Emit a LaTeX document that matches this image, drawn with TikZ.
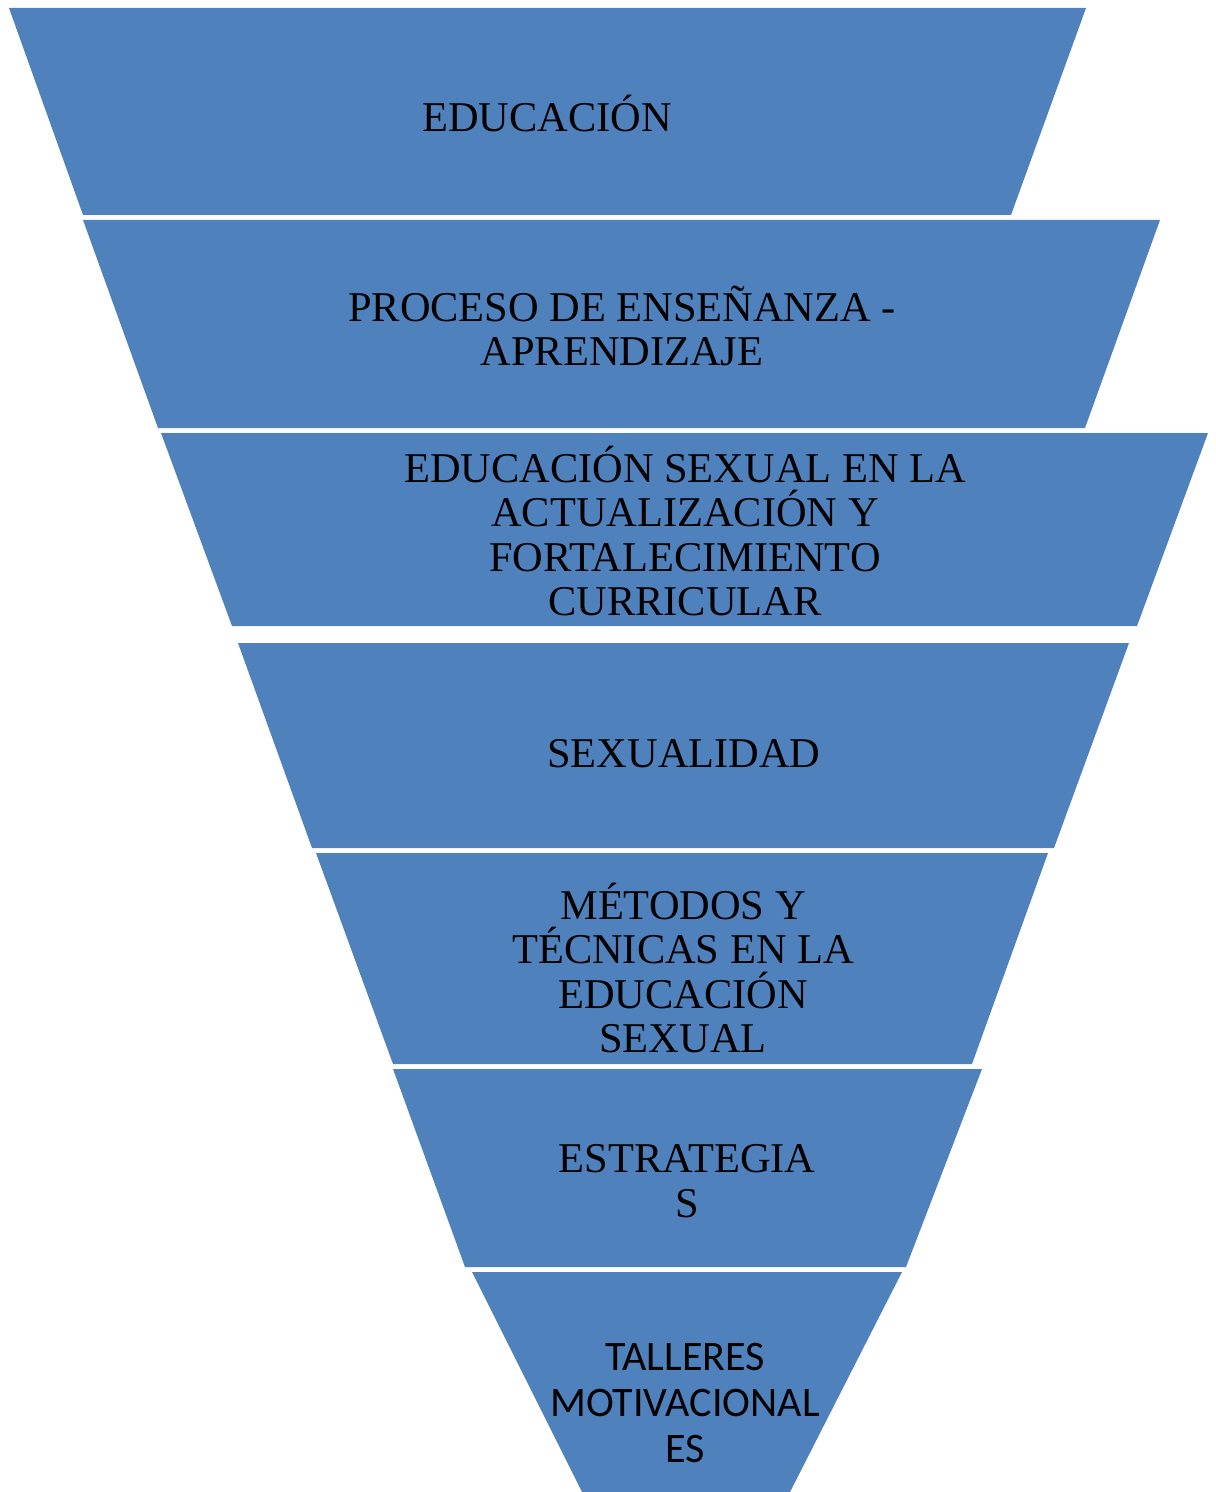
\documentclass[tikz,border=0pt]{standalone}
\usepackage{fontspec}
\setmainfont{Liberation Serif}
\newfontfamily\calib{Carlito}
\definecolor{funnelblue}{RGB}{79,129,189}
\begin{document}
\begin{tikzpicture}[x=0.5pt,y=-0.5pt,
  seg/.style={fill=funnelblue},
  lbl/.style={align=center,inner sep=0pt,text=black,font=\fontsize{21.2}{22.3}\selectfont},
  lblsans/.style={align=center,inner sep=0pt,text=black,font=\calib\fontsize{21}{23}\selectfont}]
\useasboundingbox (0,0) rectangle (1215,1492);
\fill[seg] (9,8) -- (1086,8) -- (1011,215) -- (83,215) -- cycle;
\fill[seg] (83,220) -- (1160,220) -- (1085,428) -- (158,428) -- cycle;
\fill[seg] (161,433) -- (1208,433) -- (1137,626) -- (232,626) -- cycle;
\fill[seg] (238,643) -- (1129,643) -- (1054,848) -- (312,848) -- cycle;
\fill[seg] (316,853) -- (1048,853) -- (972,1064) -- (393,1064) -- cycle;
\fill[seg] (393,1069) -- (982,1069) -- (906,1267) -- (465,1267) -- cycle;
\fill[seg] (472,1272) -- (902,1272) -- (790,1492) -- (582,1492) -- cycle;
\node[lbl] (n1) at (547,114) {EDUCACIÓN};
\node[lbl] (n2) at (622,326) {PROCESO DE ENSEÑANZA -\\APRENDIZAJE};
\node[lbl] (n3) at (685,531) {EDUCACIÓN SEXUAL EN LA\\ACTUALIZACIÓN Y\\FORTALECIMIENTO\\CURRICULAR};
\node[lbl] (n4) at (684,754) {SEXUALIDAD};
\node[lbl] (n5) at (683,968) {MÉTODOS Y\\TÉCNICAS EN LA\\EDUCACIÓN\\SEXUAL};
\node[lbl] (n6) at (687,1181) {ESTRATEGIA\\S};
\node[lblsans] (n7) at (685,1403) {TALLERES\\MOTIVACIONAL\\ES};
\end{tikzpicture}
\end{document}
